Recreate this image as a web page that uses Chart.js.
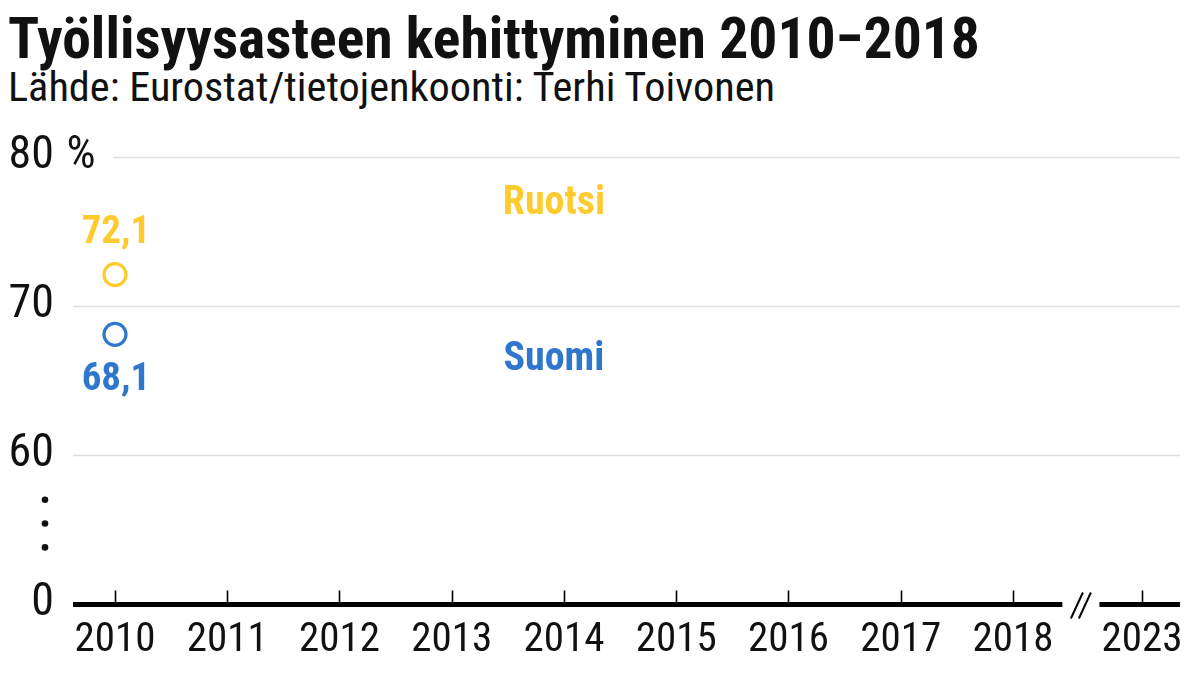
<!DOCTYPE html>
<html><head><meta charset="utf-8">
<script src="https://cdn.jsdelivr.net/npm/chart.js@4"></script>
<style>
html,body{margin:0;padding:0;background:#fff;width:1199px;height:675px;overflow:hidden}
#wrap{position:relative;width:1199px;height:675px}
#c{position:absolute;left:0;top:0}
.t{position:absolute;left:8px;white-space:nowrap;transform-origin:0 0;color:#111;
   font-family:'Roboto Condensed','Liberation Sans Narrow','Arial Narrow','DejaVu Sans Condensed',Roboto,sans-serif}
#title{top:9px;font-size:58px;line-height:58px;font-weight:bold}
#sub{top:67px;font-size:41px;line-height:41px;font-weight:normal}
</style></head>
<body><div id="wrap">
<div class="t" id="title">Työllisyysasteen kehittyminen 2010−2018</div>
<div class="t" id="sub">Lähde: Eurostat/tietojenkoonti: Terhi Toivonen</div>
<canvas id="c" width="1199" height="675"></canvas>
</div>
<script>
const FONT = "'Roboto Condensed','Liberation Sans Narrow','Arial Narrow','DejaVu Sans Condensed',Roboto,sans-serif";
// ---- data ----
const years = ['2010','2011','2012','2013','2014','2015','2016','2017','2018','2023'];
const seriesNames = ['Ruotsi','Suomi'];
const ruotsi = [72.1];   // 2010
const suomi  = [68.1];   // 2010
const yTickValues = [0, 60, 70, 80];
const yTickLabels = ['0', '60', '70', '80'];
const colors = { Ruotsi: '#FECB2F', Suomi: '#2E77CC' };

// broken axes: 0 shown at 50 on the value scale; 2023 after a gap
const Y_BREAK_BASE = 50;
function yPos(v){ return v === 0 ? Y_BREAK_BASE : v; }
function xPos(label){ const y = +label; return y <= 2018 ? y - 2010 : 9.15; }
function fmt(v){ return v.toFixed(1).replace('.', ','); }

// fit title widths
function fit(id, w){ const el = document.getElementById(id); const r = el.getBoundingClientRect().width; el.style.transform = 'scaleX(' + (w / r) + ')'; }
fit('title', 972); fit('sub', 767);

const decor = {
  id: 'decor',
  beforeDatasetsDraw(chart){
    const ctx = chart.ctx, x = chart.scales.x, y = chart.scales.y, a = chart.chartArea;
    ctx.save();
    // gridlines
    ctx.strokeStyle = '#dedede'; ctx.lineWidth = 1.5;
    yTickValues.forEach(v => {
      if (v === 0) return;
      const py = Math.round(y.getPixelForValue(yPos(v))) + 0.5;
      const x0 = v === 80 ? 113 : a.left;
      ctx.beginPath(); ctx.moveTo(x0, py); ctx.lineTo(a.right, py); ctx.stroke();
    });
    // y labels
    ctx.fillStyle = '#111'; ctx.font = '46px ' + FONT; ctx.textBaseline = 'middle';
    yTickValues.forEach((v, i) => {
      const py = y.getPixelForValue(yPos(v)) - 1;
      ctx.textAlign = 'right'; ctx.fillText(yTickLabels[i], 54, py);
      if (v === 80) { ctx.textAlign = 'left'; ctx.fillText(' %', 56, py); }
    });
    // break dots on y axis
    [57.0, 55.4, 53.8].forEach(v => {
      ctx.beginPath(); ctx.arc(45, y.getPixelForValue(v), 3.3, 0, Math.PI * 2); ctx.fill();
    });
    // x axis line with break
    const base = y.getPixelForValue(Y_BREAK_BASE) + 0.5;
    const b1 = x.getPixelForValue(8.44), b2 = x.getPixelForValue(8.77);
    ctx.strokeStyle = '#000'; ctx.lineWidth = 5; ctx.lineCap = 'butt';
    ctx.beginPath(); ctx.moveTo(a.left, base); ctx.lineTo(b1, base);
    ctx.moveTo(b2, base); ctx.lineTo(a.right, base); ctx.stroke();
    // tick marks
    ctx.lineWidth = 1.6;
    years.forEach(l => {
      const px = Math.round(x.getPixelForValue(xPos(l))) + 0.5;
      ctx.beginPath(); ctx.moveTo(px, base - 14); ctx.lineTo(px, base); ctx.stroke();
    });
    // break slashes
    const mid = (b1 + b2) / 2;
    ctx.lineWidth = 2;
    [-4, 4].forEach(d => {
      ctx.beginPath(); ctx.moveTo(mid + d - 6, base + 14); ctx.lineTo(mid + d + 6, base - 12); ctx.stroke();
    });
    ctx.restore();
  },
  afterDatasetsDraw(chart){
    const ctx = chart.ctx, x = chart.scales.x, y = chart.scales.y;
    ctx.save();
    ctx.textAlign = 'center'; ctx.textBaseline = 'middle';
    // value labels
    ctx.font = 'bold 39px ' + FONT;
    chart.data.datasets.forEach(ds => {
      ds.data.forEach(p => {
        const px = x.getPixelForValue(p.x), py = y.getPixelForValue(p.y);
        const up = ds.label === 'Ruotsi';
        ctx.fillStyle = ds.borderColor;
        ctx.fillText(fmt(p.y), px + 1, py + (up ? -41 : 46));
      });
    });
    // series names
    ctx.font = 'bold 40px ' + FONT;
    const namePos = { Ruotsi: [3.91, 76.85], Suomi: [3.91, 66.35] };
    seriesNames.forEach(n => {
      ctx.fillStyle = colors[n];
      ctx.fillText(n, x.getPixelForValue(namePos[n][0]), y.getPixelForValue(namePos[n][1]));
    });
    ctx.restore();
  }
};

function toPoints(vals){ return vals.map((v, i) => ({ x: xPos(years[i]), y: v })); }

new Chart(document.getElementById('c'), {
  type: 'line',
  data: {
    datasets: [
      { label: 'Ruotsi', data: toPoints(ruotsi), borderColor: colors.Ruotsi, backgroundColor: '#fff',
        pointRadius: 11, pointBorderWidth: 3.2, borderWidth: 3, showLine: true },
      { label: 'Suomi', data: toPoints(suomi), borderColor: colors.Suomi, backgroundColor: '#fff',
        pointRadius: 11, pointBorderWidth: 3.2, borderWidth: 3, showLine: true }
    ]
  },
  options: {
    responsive: false, animation: false, events: [],
    layout: { padding: { left: 73, right: 19, top: 157, bottom: 0 } },
    plugins: { legend: { display: false }, tooltip: { enabled: false }, title: { display: false } },
    scales: {
      x: {
        type: 'linear', min: -0.374, max: 9.488,
        afterBuildTicks(s){ s.ticks = years.map(l => ({ value: xPos(l) })); },
        afterFit(s){ s.height = 71; },
        ticks: {
          autoSkip: false, maxRotation: 0, padding: 12, color: '#111',
          font: { family: FONT, size: 41 },
          callback(v){ const i = years.findIndex(l => xPos(l) === v); return i >= 0 ? years[i] : ''; }
        },
        grid: { display: false, drawTicks: false }, border: { display: false }
      },
      y: {
        type: 'linear', min: Y_BREAK_BASE, max: 80, display: false
      }
    }
  },
  plugins: [decor]
});
</script>
</body></html>
